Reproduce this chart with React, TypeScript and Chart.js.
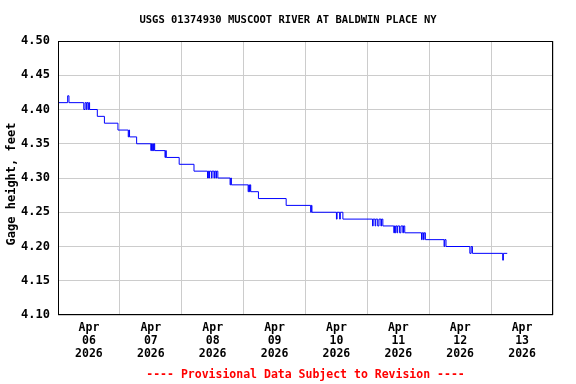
import React, { useEffect, useRef } from 'react';
import { Chart, registerables } from 'chart.js';

Chart.register(...registerables);

const chartTitle = 'USGS 01374930 MUSCOOT RIVER AT BALDWIN PLACE NY';
const yAxisTitle = 'Gage height, feet';
const footerText = '---- Provisional Data Subject to Revision ----';
const monthLabel = 'Apr';
const yearLabel = '2026';
const dayLabels = ['06', '07', '08', '09', '10', '11', '12', '13'];

// hours since 2026-04-06 00:00 at which the reading changes
const hours = [
  0, 3.75, 4.25, 10, 10.5, 11, 11.25, 11.75, 12, 12.25, 15.25, 18, 23.25,
  27.25, 27.5, 27.75, 30.5, 36, 36.25, 36.5, 36.75, 37, 37.25, 37.5, 41.5,
  41.75, 42, 47, 52.75, 58, 58.25, 58.5, 58.75, 59.5, 59.75, 60.5, 60.75,
  61.25, 61.5, 62, 66.75, 67, 67.25, 73.75, 74, 74.25, 74.5, 74.75, 77.75,
  88.5, 98, 98.25, 98.5, 108, 108.25, 109.25, 109.5, 110.5, 122, 122.25, 123,
  123.25, 124, 124.5, 125.25, 125.5, 126, 130.25, 130.5, 130.75, 131, 131.5,
  131.75, 132.5, 133, 133.75, 134, 134.5, 141, 141.25, 141.75, 142, 142.5,
  149.75, 150, 150.5, 159.75, 160.25, 160.75, 172.5, 172.75, 174.25,
];
const gageHeight = [
  4.41, 4.42, 4.41, 4.40, 4.41, 4.40, 4.41, 4.40, 4.41, 4.40, 4.39, 4.38, 4.37,
  4.36, 4.37, 4.36, 4.35, 4.34, 4.35, 4.34, 4.35, 4.34, 4.35, 4.34, 4.33,
  4.34, 4.33, 4.32, 4.31, 4.30, 4.31, 4.30, 4.31, 4.30, 4.31, 4.30, 4.31,
  4.30, 4.31, 4.30, 4.29, 4.30, 4.29, 4.28, 4.29, 4.28, 4.29, 4.28, 4.27,
  4.26, 4.25, 4.26, 4.25, 4.24, 4.25, 4.24, 4.25, 4.24, 4.23, 4.24, 4.23,
  4.24, 4.23, 4.24, 4.23, 4.24, 4.23, 4.22, 4.23, 4.22, 4.23, 4.22,
  4.23, 4.22, 4.23, 4.22, 4.23, 4.22, 4.21, 4.22, 4.21, 4.22, 4.21,
  4.20, 4.21, 4.20, 4.19, 4.20, 4.19, 4.18, 4.19, 4.19,
];

const yMin = 4.1;
const yMax = 4.5;
const yStep = 0.05;
const xMinHours = 0;
const xMaxHours = 192;

const MONO = '"DejaVu Sans Mono", "Liberation Mono", monospace';

const framePlugin = {
  id: 'frame',
  afterDatasetsDraw(chart: any) {
    const { ctx, chartArea } = chart;
    const l = Math.round(chartArea.left) + 0.5;
    const t = Math.round(chartArea.top) + 0.5;
    const r = Math.round(chartArea.right) - 0.5;
    const b = Math.round(chartArea.bottom) - 0.5;
    ctx.save();
    ctx.strokeStyle = '#000000';
    ctx.lineWidth = 1;
    ctx.strokeRect(l, t, r - l, b - t);
    // vertical y-axis title
    ctx.translate(12, 184);
    ctx.rotate(-Math.PI / 2);
    ctx.fillStyle = '#000000';
    ctx.font = `bold 12px ${MONO}`;
    ctx.textAlign = 'center';
    ctx.textBaseline = 'middle';
    ctx.fillText(yAxisTitle, 0, 0);
    ctx.restore();
  },
};

export default function App() {
  const canvasRef = useRef<HTMLCanvasElement | null>(null);

  useEffect(() => {
    document.body.style.margin = '0';
    const canvas = canvasRef.current;
    if (!canvas) return;
    const points = hours.map((h, i) => ({ x: h, y: gageHeight[i] }));
    const chart = new Chart(canvas, {
      type: 'line',
      data: {
        datasets: [
          {
            data: points,
            borderColor: '#0000ff',
            borderWidth: 1,
            pointRadius: 0,
            stepped: true,
            fill: false,
          },
        ],
      },
      options: {
        animation: false,
        responsive: false,
        maintainAspectRatio: false,
        layout: { padding: 0 },
        plugins: {
          legend: { display: false },
          tooltip: { enabled: false },
          title: {
            display: true,
            text: chartTitle,
            color: '#000000',
            font: { family: MONO, size: 10.5, weight: 'bold' },
            padding: { top: 14, bottom: 14.4 },
          },
        },
        scales: {
          x: {
            type: 'linear',
            min: xMinHours,
            max: xMaxHours,
            border: { display: false },
            grid: {
              drawTicks: false,
              lineWidth: 1,
              color: (c: any) =>
                c.tick && Math.round(c.tick.value) % 24 === 0 ? '#cccccc' : 'rgba(0,0,0,0)',
            },
            ticks: {
              stepSize: 12,
              autoSkip: false,
              maxRotation: 0,
              minRotation: 0,
              padding: 7,
              color: '#000000',
              font: { family: MONO, size: 11.5, weight: 'bold', lineHeight: 1.13 },
              callback: (v: any) => {
                const n = Math.round(Number(v));
                if (n % 24 !== 12) return '';
                const idx = (n - 12) / 24;
                return [monthLabel, dayLabels[idx] ?? '', yearLabel];
              },
            },
            title: {
              display: true,
              text: footerText,
              color: '#ff0000',
              font: { family: MONO, size: 11.5, weight: 'bold' },
              padding: { top: 0, bottom: 2 },
            },
            afterFit: (s: any) => {
              s.height = 69;
            },
          },
          y: {
            min: yMin,
            max: yMax,
            border: { display: false },
            grid: { drawTicks: false, color: '#cccccc', lineWidth: 1 },
            ticks: {
              stepSize: yStep,
              padding: 8,
              color: '#000000',
              font: { family: MONO, size: 12, weight: 'bold' },
              callback: (v: any) => Number(v).toFixed(2),
            },
            afterFit: (s: any) => {
              s.width = 58;
            },
          },
          yRight: {
            type: 'linear',
            position: 'right',
            min: yMin,
            max: yMax,
            display: true,
            border: { display: false },
            grid: { display: false, drawTicks: false },
            ticks: { display: false },
            afterFit: (s: any) => {
              s.width = 23;
            },
          },
        },
      },
      plugins: [framePlugin],
    });
    return () => chart.destroy();
  }, []);

  return (
    <div style={{ position: 'absolute', left: 0, top: 0, width: 576, height: 384, background: '#ffffff' }}>
      <canvas ref={canvasRef} width={576} height={384} />
    </div>
  );
}
